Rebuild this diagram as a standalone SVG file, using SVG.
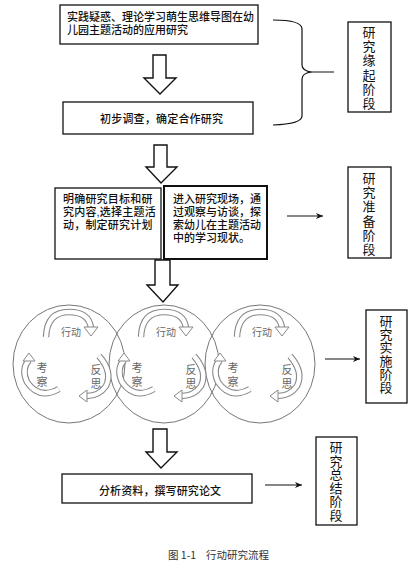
<svg xmlns="http://www.w3.org/2000/svg" width="415" height="571" viewBox="0 0 415 571">
<defs>
<style>
.box{fill:#fff;stroke:#111;stroke-width:1.3}
.thick{stroke-width:2}
.t{font-family:"Liberation Sans","Noto Sans CJK SC",sans-serif;font-size:11px;fill:#111;font-weight:500}
.v{font-family:"Noto Sans CJK SC","Noto Sans",sans-serif;font-size:13px;fill:#111;writing-mode:vertical-rl;text-orientation:upright}
.blk{fill:#fff;stroke:#111;stroke-width:1.4;stroke-linejoin:miter}
.ln{stroke:#111;stroke-width:1.2;fill:none}
.circ{fill:none;stroke:#777;stroke-width:1}
.ao{fill:none;stroke:#888;stroke-width:6.5}
.ai{fill:none;stroke:#fff;stroke-width:4.3}
.ah{fill:#fff;stroke:#888;stroke-width:1}
.ct{font-family:"Noto Sans CJK SC","Noto Sans",sans-serif;font-size:10px;fill:#666;text-anchor:middle}
.cv{font-family:"Noto Sans CJK SC","Noto Sans",sans-serif;font-size:11px;fill:#666;writing-mode:vertical-rl;text-orientation:upright;letter-spacing:3px}
.cap{font-family:"Noto Sans CJK SC","Noto Sans",sans-serif;font-size:10.5px;fill:#333}
</style>
<marker id="arr" markerWidth="8" markerHeight="8" refX="7" refY="4" orient="auto" markerUnits="userSpaceOnUse">
<path d="M0,1 L7,4 L0,7 L2,4 Z" fill="#111"/>
</marker>
<g id="cycle">
<path class="ao" d="M-23,-27 Q-22,-52 0,-52 Q20,-52 22,-36"/>
<path class="ai" d="M-23,-27 Q-22,-52 0,-52 Q20,-52 22,-36"/>
<path class="ah" d="M15,-37 L29,-37 L22,-28 Z"/>
<path class="ao" d="M-10,25 Q-30,36 -42,18 Q-48,5 -40,-4"/>
<path class="ai" d="M-10,25 Q-30,36 -42,18 Q-48,5 -40,-4"/>
<path class="ah" d="M-46,-3 L-34,-3 L-40,-11 Z"/>
<path class="ao" d="M30,-8 Q44,8 37,22 Q30,32 18,32"/>
<path class="ai" d="M30,-8 Q44,8 37,22 Q30,32 18,32"/>
<path class="ah" d="M18,26 L18,38 L10,32 Z"/>
<text class="ct" x="2" y="-28">行动</text>
<text class="cv" x="-27" y="-1.5">考察</text>
<text class="cv" x="27" y="0.5">反思</text>
</g>
</defs>
<rect width="415" height="571" fill="#fff"/>

<g id="connectors">
<polygon class="blk" points="153,55 166,55 166,78 176,78 160,94 144,78 153,78"/>
<polygon class="blk" points="154,145 167,145 167,167 177,167 161,183 146,167 154,167"/>
<polygon class="blk" points="155,260 170,260 170,285 178,285 163,302 147,285 155,285"/>
<polygon class="blk" points="153,429 167,429 167,452 177,452 161,468 146,452 153,452"/>
<path class="ln" d="M273,20 Q302,20 302,29 L302,65 Q302,71 312,72 L334,72 M312,72 Q302,73 302,79 L302,116 Q302,124 273,125"/>
<line class="ln" x1="287" y1="216" x2="323" y2="216" marker-end="url(#arr)"/>
<line class="ln" x1="325" y1="359" x2="360" y2="359" marker-end="url(#arr)"/>
<line class="ln" x1="265" y1="485" x2="302" y2="485" marker-end="url(#arr)"/>
</g>

<g id="n1">
<rect class="box" x="60" y="5" width="198" height="39"/>
<text class="t" x="67" y="21">实践疑惑、理论学习萌生思维导图在幼<tspan x="67" dy="13">儿园主题活动的应用研究</tspan></text>
</g>
<g id="n2">
<rect class="box" x="63" y="102" width="190" height="32"/>
<text class="t" x="100" y="123" letter-spacing="0.2">初步调查，确定合作研究</text>
</g>
<g id="n3a">
<rect class="box" x="55" y="188" width="106" height="71"/>
<text class="t" x="63" y="203" letter-spacing="0.2">明确研究目标和研<tspan x="63" dy="13">究内容,选择主题活</tspan><tspan x="63" dy="13">动，制定研究计划</tspan></text>
</g>
<g id="n3b">
<rect class="box thick" x="164" y="186" width="103" height="73"/>
<text class="t" x="173" y="203">进入研究现场，通<tspan x="173" dy="13">过观察与访谈，探</tspan><tspan x="173" dy="13">索幼儿在主题活动</tspan><tspan x="173" dy="12.5">中的学习现状。</tspan></text>
</g>
<g id="cycles">
<ellipse class="circ" cx="69" cy="364" rx="56" ry="59"/>
<ellipse class="circ" cx="164" cy="364" rx="55" ry="59"/>
<ellipse class="circ" cx="260" cy="364" rx="55" ry="59"/>
<use href="#cycle" x="69" y="364"/>
<use href="#cycle" x="164" y="364"/>
<use href="#cycle" x="260" y="364"/>
</g>
<g id="n4">
<rect class="box" x="62" y="474" width="190" height="29"/>
<text class="t" x="99" y="495" letter-spacing="0.1">分析资料，撰写研究论文</text>
</g>
<g id="s1">
<rect class="box" x="348" y="22" width="43" height="90"/>
<text class="v" x="369" y="25.5" letter-spacing="1.2">研究缘起阶段</text>
</g>
<g id="s2">
<rect class="box" x="348" y="167" width="43" height="91"/>
<text class="v" x="369" y="171.5" letter-spacing="1.2">研究准备阶段</text>
</g>
<g id="s3">
<rect class="box" x="366" y="310" width="41" height="93"/>
<text class="v" x="386" y="314.5" letter-spacing="0.2">研究实施阶段</text>
</g>
<g id="s4">
<rect class="box" x="316" y="437" width="41" height="88"/>
<text class="v" x="336" y="440.5" letter-spacing="0.6">研究总结阶段</text>
</g>
<text class="cap" x="168" y="559">图 1-1<tspan x="206">行动研究流程</tspan></text>
</svg>
